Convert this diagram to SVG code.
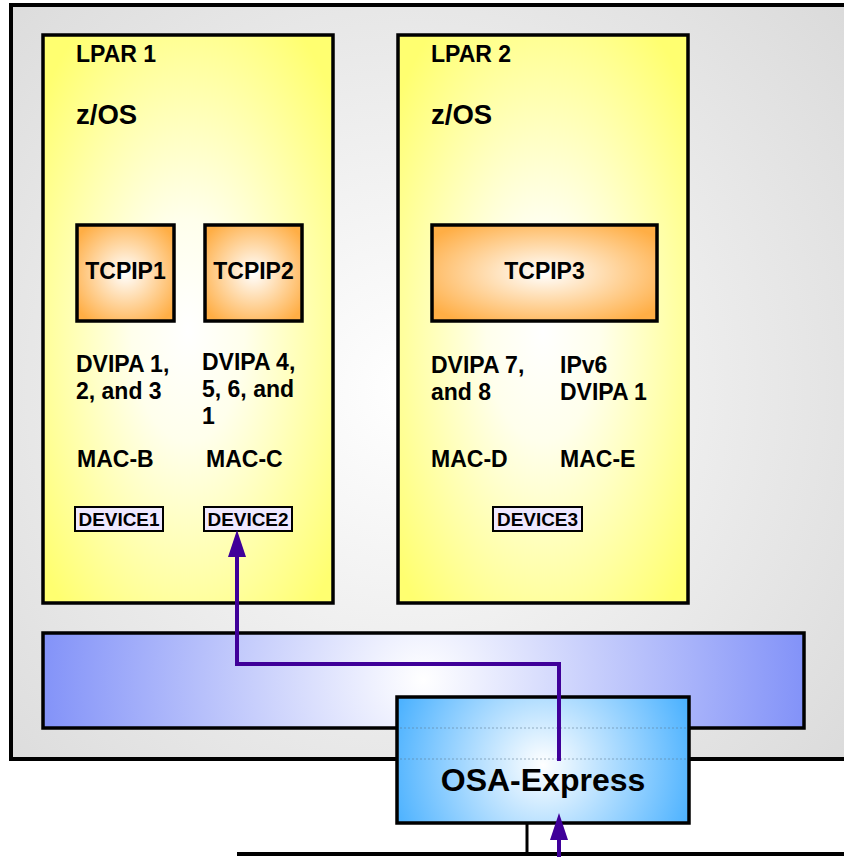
<svg xmlns="http://www.w3.org/2000/svg" width="844" height="857" viewBox="0 0 844 857">
<style>
text{font-family:"Liberation Sans",Arial,sans-serif;font-weight:bold;fill:#000}
.lbl{font-size:23px}
.big{font-size:27.5px}
.dev{font-size:18.5px}
.frame{stroke:#000;stroke-width:3.5}
.conn{fill:none;stroke:#3f0099;stroke-width:4}
</style>
<defs>
<radialGradient id="gBg" gradientUnits="userSpaceOnUse" cx="410" cy="390" r="620">
<stop offset="0" stop-color="#ffffff"/><stop offset="1" stop-color="#d8d8d8"/>
</radialGradient>
<radialGradient id="gY" cx="0.5" cy="0.52" r="0.65">
<stop offset="0" stop-color="#ffffff"/><stop offset="0.3" stop-color="#ffffec"/><stop offset="1" stop-color="#ffff70"/>
</radialGradient>
<radialGradient id="gO" cx="0.5" cy="0.5" r="0.62">
<stop offset="0" stop-color="#ffffff"/><stop offset="1" stop-color="#ffae45"/>
</radialGradient>
<radialGradient id="gB" gradientUnits="userSpaceOnUse" cx="423" cy="680" r="390">
<stop offset="0" stop-color="#ffffff"/><stop offset="1" stop-color="#8090f8"/>
</radialGradient>
<radialGradient id="gS" gradientUnits="userSpaceOnUse" cx="543" cy="765" r="160">
<stop offset="0" stop-color="#ffffff"/><stop offset="1" stop-color="#48b0ff"/>
</radialGradient>
<marker id="ah" markerUnits="userSpaceOnUse" markerWidth="30" markerHeight="20" refX="0" refY="9" orient="auto">
<path d="M0,0 L27,9 L0,18 z" fill="#3f0099"/>
</marker>
</defs>

<g id="system">
<rect x="11" y="5" width="845" height="754" fill="url(#gBg)" stroke="#000" stroke-width="4"/>
</g>

<g id="lpar1">
<rect class="frame" x="43" y="35" width="290" height="568" fill="url(#gY)"/>
<text class="lbl" x="76" y="62">LPAR 1</text>
<text class="big" x="76" y="124">z/OS</text>
<text class="lbl" x="76" y="372">DVIPA 1,</text>
<text class="lbl" x="76" y="399">2, and 3</text>
<text class="lbl" x="202" y="370">DVIPA 4,</text>
<text class="lbl" x="202" y="397">5, 6, and</text>
<text class="lbl" x="202" y="424">1</text>
<text class="lbl" x="77" y="467">MAC-B</text>
<text class="lbl" x="206" y="467">MAC-C</text>
</g>

<g id="lpar2">
<rect class="frame" x="398" y="35" width="290" height="568" fill="url(#gY)"/>
<text class="lbl" x="431" y="62">LPAR 2</text>
<text class="big" x="431" y="124">z/OS</text>
<text class="lbl" x="431" y="373">DVIPA 7,</text>
<text class="lbl" x="431" y="400">and 8</text>
<text class="lbl" x="560" y="373">IPv6</text>
<text class="lbl" x="560" y="400">DVIPA 1</text>
<text class="lbl" x="431" y="467">MAC-D</text>
<text class="lbl" x="560" y="467">MAC-E</text>
</g>

<g id="tcpip1">
<rect class="frame" x="77" y="225" width="97" height="96" fill="url(#gO)"/>
<text class="lbl" x="125.5" y="279" text-anchor="middle">TCPIP1</text>
</g>
<g id="tcpip2">
<rect class="frame" x="205" y="225" width="97" height="96" fill="url(#gO)"/>
<text class="lbl" x="253.5" y="279" text-anchor="middle">TCPIP2</text>
</g>
<g id="tcpip3">
<rect class="frame" x="432" y="225" width="225" height="96" fill="url(#gO)"/>
<text class="lbl" x="544.5" y="279" text-anchor="middle">TCPIP3</text>
</g>

<g id="device1">
<rect x="75" y="507" width="88" height="24" fill="#efe8ff" stroke="#000" stroke-width="2"/>
<text class="dev" x="119" y="526" text-anchor="middle" textLength="81" lengthAdjust="spacingAndGlyphs">DEVICE1</text>
</g>
<g id="device2">
<rect x="204" y="507" width="88" height="24" fill="#efe8ff" stroke="#000" stroke-width="2"/>
<text class="dev" x="248" y="526" text-anchor="middle" textLength="81" lengthAdjust="spacingAndGlyphs">DEVICE2</text>
</g>
<g id="device3">
<rect x="493" y="507" width="89" height="24" fill="#efe8ff" stroke="#000" stroke-width="2"/>
<text class="dev" x="537.5" y="526" text-anchor="middle" textLength="81" lengthAdjust="spacingAndGlyphs">DEVICE3</text>
</g>

<g id="bus">
<rect class="frame" x="43" y="633" width="761" height="95" fill="url(#gB)"/>
</g>

<g id="network">
<line x1="237" y1="854" x2="850" y2="854" stroke="#000" stroke-width="4"/>
<line x1="527" y1="823" x2="527" y2="854" stroke="#000" stroke-width="3"/>
</g>

<g id="osa">
<rect class="frame" x="397" y="697" width="292" height="126" fill="url(#gS)"/>
<line x1="400" y1="728" x2="686" y2="728" stroke="#5a7890" stroke-width="1" stroke-dasharray="2 2" opacity="0.55"/>
<line x1="400" y1="759" x2="686" y2="759" stroke="#5a7890" stroke-width="1" stroke-dasharray="2 2" opacity="0.55"/>
<text x="543" y="791" text-anchor="middle" style="font-size:32px">OSA-Express</text>
</g>

<g id="connectors">
<path class="conn" d="M559,761 V664 H237 V557" marker-end="url(#ah)"/>
<path class="conn" d="M559,857 V840" marker-end="url(#ah)"/>
</g>
</svg>
